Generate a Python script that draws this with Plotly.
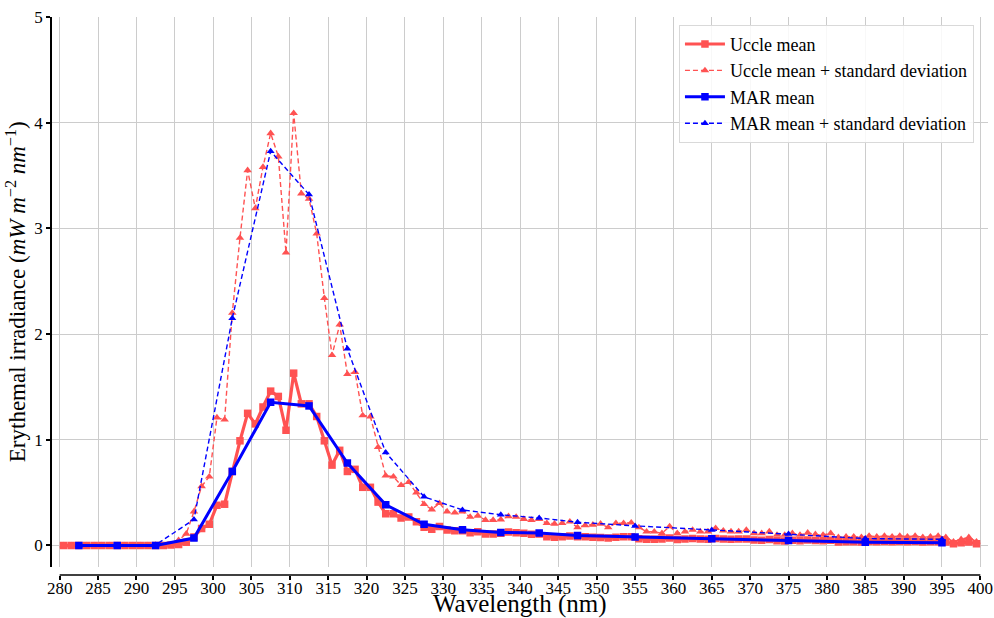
import plotly.graph_objects as go

# ---------------- data ----------------
uccle_wl = [280.5 + i for i in range(120)]  # 280.5 ... 399.5 nm

uccle_mean = [
    0.0, 0.0, 0.0, 0.0, 0.0, 0.0, 0.0, 0.0, 0.0, 0.0,          # 280.5-289.5
    0.0, 0.0, 0.0, 0.0, 0.005, 0.01, 0.03, 0.08, 0.16, 0.20,   # 290.5-299.5
    0.38, 0.39, 0.70, 0.99, 1.25, 1.15, 1.31, 1.46, 1.41, 1.09, # 300.5-309.5
    1.63, 1.34, 1.34, 1.22, 0.99, 0.76, 0.90, 0.70, 0.72, 0.55, # 310.5-319.5
    0.55, 0.41, 0.30, 0.30, 0.26, 0.27, 0.225, 0.172, 0.153, 0.178, # 320.5-329.5
    0.147, 0.14, 0.14, 0.121, 0.13, 0.109, 0.109, 0.115, 0.128, 0.121, # 330.5-339.5
    0.115, 0.106, 0.109, 0.083, 0.077, 0.083, 0.09, 0.083, 0.083, 0.077, # 340.5-349.5
    0.074, 0.071, 0.077, 0.083, 0.083, 0.064, 0.058, 0.058, 0.06, 0.07,  # 350.5-359.5
    0.055, 0.06, 0.065, 0.06, 0.058, 0.065, 0.06, 0.058, 0.06, 0.062,    # 360.5-369.5
    0.052, 0.05, 0.055, 0.045, 0.042, 0.05, 0.045, 0.052, 0.046, 0.044,  # 370.5-379.5
    0.05, 0.033, 0.035, 0.036, 0.033, 0.038, 0.035, 0.038, 0.035, 0.038, # 380.5-389.5
    0.035, 0.038, 0.032, 0.035, 0.036, 0.032, 0.015, 0.025, 0.032, 0.015, # 390.5-399.5
]

uccle_std = [
    0.0, 0.0, 0.0, 0.0, 0.0, 0.0, 0.0, 0.0, 0.0, 0.0,           # 280.5-289.5
    0.0, 0.0, 0.0, 0.0, 0.01, 0.05, 0.11, 0.32, 0.56, 0.65,     # 290.5-299.5
    1.21, 1.19, 2.2, 2.91, 3.55, 3.19, 3.58, 3.90, 3.68, 2.77,  # 300.5-309.5
    4.09, 3.33, 3.28, 2.95, 2.34, 1.80, 2.09, 1.62, 1.64, 1.23, # 310.5-319.5
    1.22, 0.93, 0.66, 0.65, 0.57, 0.60, 0.50, 0.39, 0.34, 0.40, # 320.5-329.5
    0.32, 0.31, 0.32, 0.27, 0.28, 0.24, 0.24, 0.245, 0.275, 0.27, # 330.5-339.5
    0.25, 0.24, 0.25, 0.21, 0.205, 0.21, 0.225, 0.17, 0.19, 0.195, # 340.5-349.5
    0.205, 0.17, 0.21, 0.21, 0.215, 0.17, 0.13, 0.13, 0.115, 0.18, # 350.5-359.5
    0.115, 0.13, 0.147, 0.131, 0.131, 0.163, 0.14, 0.131, 0.131, 0.147, # 360.5-369.5
    0.115, 0.115, 0.131, 0.099, 0.099, 0.115, 0.099, 0.12, 0.105, 0.099, # 370.5-379.5
    0.115, 0.077, 0.083, 0.083, 0.077, 0.09, 0.083, 0.09, 0.083, 0.09,   # 380.5-389.5
    0.083, 0.09, 0.077, 0.083, 0.09, 0.077, 0.036, 0.058, 0.077, 0.036,  # 390.5-399.5
]

mar_wl = [282.5, 287.5, 292.5, 297.5, 302.5, 307.5, 312.5, 317.5, 322.5, 327.5,
          332.5, 337.5, 342.5, 347.5, 355, 365, 375, 385, 395]
mar_mean = [0.0, 0.0, 0.0, 0.07, 0.70, 1.355, 1.32, 0.78, 0.385, 0.20,
            0.149, 0.123, 0.117, 0.095, 0.079, 0.063, 0.047, 0.031, 0.025]
mar_std = [0.0, 0.0, 0.005, 0.245, 2.15, 3.73, 3.32, 1.86, 0.88, 0.46,
           0.336, 0.29, 0.26, 0.22, 0.185, 0.147, 0.109, 0.065, 0.058]

x_ticks = list(range(280, 401, 5))
y_ticks = [0, 1, 2, 3, 4, 5]
x_range = [279, 401]
y_range = [-0.2, 5]

RED = "#ff5252"
BLUE = "#0000ff"
FONT = "Liberation Serif"

fig = go.Figure()
fig.add_trace(go.Scatter(
    x=uccle_wl, y=uccle_mean, mode="lines+markers", name="Uccle mean",
    line=dict(color=RED, width=3.2), marker=dict(symbol="square", size=7.5, color=RED)))
fig.add_trace(go.Scatter(
    x=uccle_wl, y=uccle_std, mode="lines+markers", name="Uccle mean + standard deviation",
    line=dict(color=RED, width=1.4, dash="5px,3px"),
    marker=dict(symbol="triangle-up", size=7.5, color=RED)))
fig.add_trace(go.Scatter(
    x=mar_wl, y=mar_mean, mode="lines+markers", name="MAR mean",
    line=dict(color=BLUE, width=3), marker=dict(symbol="square", size=7.5, color=BLUE)))
fig.add_trace(go.Scatter(
    x=mar_wl, y=mar_std, mode="lines+markers", name="MAR mean + standard deviation",
    line=dict(color=BLUE, width=1.4, dash="5px,3px"),
    marker=dict(symbol="triangle-up", size=7, color=BLUE)))
# helper (invisible) trace so the offset tick axis is drawn
fig.add_trace(go.Scatter(x=[x_ticks[0]], y=[0], xaxis="x2", mode="markers",
                         marker=dict(opacity=0), showlegend=False, hoverinfo="skip"))

# bottom spine bounded to 280..400 (offset below the plot area)
fig.add_shape(type="line", xref="x", yref="paper", x0=x_ticks[0], x1=x_ticks[-1],
              y0=0, y1=0, line=dict(color="black", width=1.5), layer="above")

# x-axis title
fig.add_annotation(text="Wavelength (nm)", xref="paper", yref="paper", x=0.5, y=-0.0235,
                   xanchor="center", yanchor="top", showarrow=False,
                   font=dict(family=FONT, size=25, color="black"))

fig.update_layout(
    width=994, height=618,
    margin=dict(l=52, r=6, t=17, b=43),
    paper_bgcolor="white", plot_bgcolor="white",
    font=dict(family=FONT, size=17, color="black"),
    showlegend=True,
    legend=dict(x=0.985, y=0.986, xanchor="right", yanchor="top",
                bgcolor="rgba(255,255,255,0.85)", bordercolor="#d9d9d9", borderwidth=1,
                font=dict(family=FONT, size=18), itemwidth=40, tracegroupgap=0),
    xaxis=dict(range=x_range, tickmode="array", tickvals=x_ticks, anchor="y",
               showline=False, zeroline=False, showticklabels=False, ticks="",
               showgrid=True, gridcolor="#cccccc", gridwidth=1, automargin=False),
    xaxis2=dict(range=x_range, overlaying="x", anchor="free", position=0, side="bottom",
                tickmode="array", tickvals=x_ticks,
                showline=False, zeroline=False, showgrid=False, automargin=False,
                ticks="outside", ticklen=4, tickwidth=1.5, tickcolor="black",
                ticklabelstandoff=-6,
                tickfont=dict(family=FONT, size=17)),
    yaxis=dict(range=y_range, domain=[0.0151, 1], tickmode="array", tickvals=y_ticks,
               showline=True, linecolor="black", linewidth=1.5, zeroline=False,
               showgrid=True, gridcolor="#cccccc", gridwidth=1, automargin=False,
               ticks="outside", ticklen=4, tickwidth=1.5, tickcolor="black",
               tickfont=dict(family=FONT, size=17),
               title=dict(text="Erythemal irradiance (<i>mW m</i><sup>\u22122</sup> <i>nm</i><sup>\u22121</sup>)",
                          font=dict(family=FONT, size=23), standoff=2)),
)

fig.write_html("out.html", post_script="document.body.style.margin='0';",
               config={"displayModeBar": False})
